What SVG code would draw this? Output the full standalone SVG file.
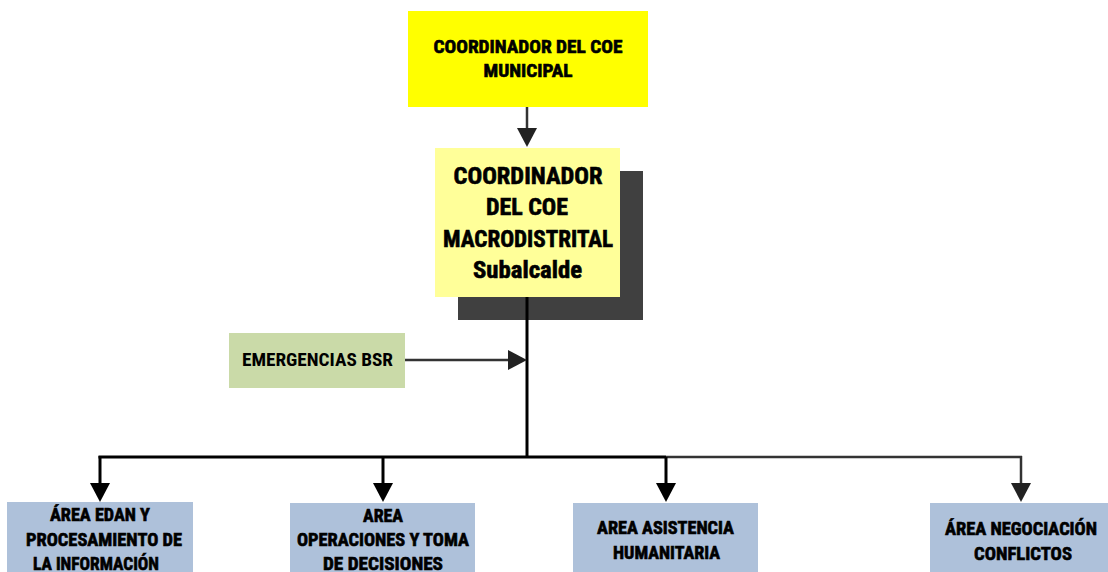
<svg xmlns="http://www.w3.org/2000/svg" width="1108" height="572" viewBox="0 0 1108 572">
<defs>
<style>
.t{font-family:"Liberation Sans Narrow","Roboto Condensed","Liberation Sans",Arial,sans-serif;font-weight:bold;fill:#000;stroke:#000;stroke-width:0.6;text-anchor:middle}
.s18{font-size:18px}
.s24{font-size:24px}
.s19{font-size:19px;stroke-width:0}
.ln{fill:none;stroke:#000;stroke-width:3}
.lg{fill:none;stroke:#333;stroke-width:2.5}
.area{fill:#AEC1DA}
</style>
<marker id="ah" markerUnits="userSpaceOnUse" markerWidth="20" markerHeight="20" refX="0" refY="10" orient="auto" viewBox="0 0 20 20">
<path d="M0,0 L19,10 L0,20 z" fill="#000"/>
</marker>
<marker id="ahg" markerUnits="userSpaceOnUse" markerWidth="20" markerHeight="20" refX="0" refY="10" orient="auto" viewBox="0 0 20 20">
<path d="M0,0 L19,10 L0,20 z" fill="#222"/>
</marker>
</defs>
<rect width="1108" height="572" fill="#fff"/>

<g id="coordinador-municipal">
<rect x="408" y="11" width="240" height="96" fill="#FFFF00"/>
<text class="t s18" x="528" y="53" textLength="189" lengthAdjust="spacingAndGlyphs">COORDINADOR DEL COE</text>
<text class="t s18" x="528" y="77" textLength="89" lengthAdjust="spacingAndGlyphs">MUNICIPAL</text>
</g>

<g id="coordinador-macrodistrital">
<rect x="458" y="171" width="185" height="149" fill="#404040"/>
<rect x="435" y="148" width="185" height="149" fill="#FFFF99"/>
<text class="t s24" x="528" y="184" textLength="149" lengthAdjust="spacingAndGlyphs">COORDINADOR</text>
<text class="t s24" x="527" y="215" textLength="82" lengthAdjust="spacingAndGlyphs">DEL COE</text>
<text class="t s24" x="528" y="247" textLength="170" lengthAdjust="spacingAndGlyphs">MACRODISTRITAL</text>
<text class="t s24" x="527.5" y="278" textLength="109" lengthAdjust="spacingAndGlyphs">Subalcalde</text>
</g>

<g id="emergencias-bsr">
<rect x="229" y="333" width="176" height="55" fill="#CADAA8"/>
<text class="t s19" x="317.5" y="366" textLength="151" lengthAdjust="spacingAndGlyphs">EMERGENCIAS BSR</text>
</g>

<g id="connectors">
<line class="lg" x1="527" y1="107" x2="527" y2="128" marker-end="url(#ahg)"/>
<line class="ln" x1="527" y1="297" x2="527" y2="458"/>
<line class="lg" x1="405" y1="360" x2="508" y2="360" marker-end="url(#ahg)"/>
<line class="ln" x1="98.5" y1="457" x2="666" y2="457"/>
<line class="lg" x1="666" y1="457" x2="1022" y2="457"/>
<path class="ln" d="M100,456 V483" marker-end="url(#ah)"/>
<path class="ln" d="M383,457 V483" marker-end="url(#ah)"/>
<path class="ln" d="M666,457 V483" marker-end="url(#ah)"/>
<path class="lg" d="M1021,456 V483" marker-end="url(#ahg)"/>
</g>

<g id="area-edan">
<rect class="area" x="7" y="502" width="186" height="80"/>
<text class="t s18" x="100" y="521" textLength="100" lengthAdjust="spacingAndGlyphs">ÁREA EDAN Y</text>
<text class="t s18" x="104" y="546" textLength="156" lengthAdjust="spacingAndGlyphs">PROCESAMIENTO DE</text>
<text class="t s18" x="96" y="570" textLength="126" lengthAdjust="spacingAndGlyphs">LA INFORMACIÓN</text>
</g>

<g id="area-operaciones">
<rect class="area" x="290" y="503" width="185" height="80"/>
<text class="t s18" x="383" y="522" textLength="40" lengthAdjust="spacingAndGlyphs">AREA</text>
<text class="t s18" x="383" y="546" textLength="172" lengthAdjust="spacingAndGlyphs">OPERACIONES Y TOMA</text>
<text class="t s18" x="383" y="569.5" textLength="120" lengthAdjust="spacingAndGlyphs">DE DECISIONES</text>
</g>

<g id="area-asistencia">
<rect class="area" x="573" y="503" width="185" height="80"/>
<text class="t s18" x="665.5" y="534" textLength="137" lengthAdjust="spacingAndGlyphs">AREA ASISTENCIA</text>
<text class="t s18" x="666.5" y="559" textLength="107" lengthAdjust="spacingAndGlyphs">HUMANITARIA</text>
</g>

<g id="area-negociacion">
<rect class="area" x="930" y="503" width="185" height="80"/>
<text class="t s18" x="1021" y="535" textLength="152" lengthAdjust="spacingAndGlyphs">ÁREA NEGOCIACIÓN</text>
<text class="t s18" x="1023" y="560" textLength="98" lengthAdjust="spacingAndGlyphs">CONFLICTOS</text>
</g>
</svg>
